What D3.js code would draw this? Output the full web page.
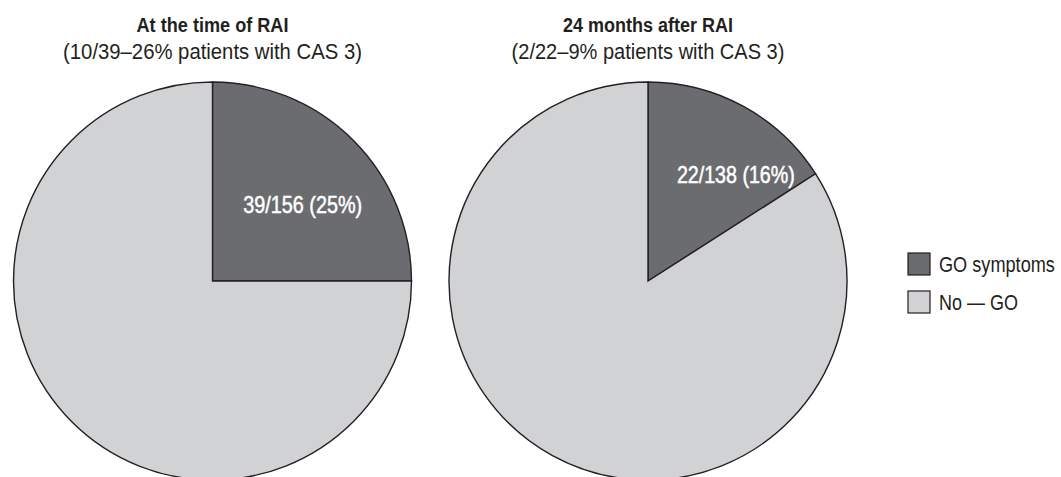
<!DOCTYPE html>
<html>
<head>
<meta charset="utf-8">
<script src="https://cdn.jsdelivr.net/npm/d3@7"></script>
<style>
  html, body { margin: 0; padding: 0; background: #fff; }
  svg { display: block; }
  text { font-family: "Liberation Sans", Arial, sans-serif; fill: #231f20; }
</style>
</head>
<body>
<svg id="chart" width="1061" height="477"></svg>
<script>
// ---- data ----
const categories = ["GO symptoms", "No \u2014 GO"];
const titles = ["At the time of RAI", "24 months after RAI"];
const subtitles = ["(10/39\u201326% patients with CAS 3)", "(2/22\u20139% patients with CAS 3)"];
const atRAI = [39, 117];
const after24 = [22, 116];
const sliceLabels = ["39/156 (25%)", "22/138 (16%)"];

// ---- layout / style ----
const colors = ["#6b6c70", "#d1d2d4"];
const radius = 199;
const centers = [{x: 212.5, y: 281}, {x: 648, y: 281}];
const labelAngle = [0.87, 0.69];
const labelRadius = [118, 138];
const titleLen = [152, 170];
const subtitleLen = [299, 273];
const sliceLabelLen = [119, 118];
const legendLen = [116, 79];

const svg = d3.select("#chart");
const color = d3.scaleOrdinal().domain(categories).range(colors);
const pie = d3.pie().sort(null).value(d => d.value);
const arc = d3.arc().innerRadius(0).outerRadius(radius);

// condense a text horizontally to a target width with a scale transform
function condense(sel, x, y, len, anchor) {
  const natural = sel.node().getComputedTextLength();
  const sx = Math.min(1, len / natural);
  sel.attr("text-anchor", anchor || "start")
     .attr("transform", `translate(${x},${y}) scale(${sx},1)`);
}

[atRAI, after24].forEach((vals, i) => {
  const data = categories.map((c, j) => ({cat: c, value: vals[j]}));
  const g = svg.append("g").attr("transform", `translate(${centers[i].x},${centers[i].y})`);
  g.selectAll("path")
    .data(pie(data))
    .join("path")
    .attr("d", arc)
    .attr("fill", d => color(d.data.cat))
    .attr("stroke", "#231f20")
    .attr("stroke-width", 1.4);

  const a = labelAngle[i], r = labelRadius[i];
  g.append("text")
    .style("fill", "#ffffff")
    .style("stroke", "#ffffff")
    .style("stroke-width", 0.5)
    .style("font-size", "23px")
    .text(sliceLabels[i])
    .call(condense, Math.sin(a) * r, -Math.cos(a) * r + 8.5, sliceLabelLen[i], "middle");

  svg.append("text")
    .style("font-size", "20px")
    .style("font-weight", "bold")
    .text(titles[i])
    .call(condense, centers[i].x, 32, titleLen[i], "middle");
  svg.append("text")
    .style("font-size", "22px")
    .text(subtitles[i])
    .call(condense, centers[i].x, 59, subtitleLen[i], "middle");
});

// legend
const legend = svg.append("g").attr("transform", "translate(908,253)");
categories.forEach((c, j) => {
  const row = legend.append("g").attr("transform", `translate(0,${j * 38})`);
  row.append("rect")
    .attr("width", 22).attr("height", 22)
    .attr("fill", color(c))
    .attr("stroke", "#231f20").attr("stroke-width", 1.2);
  row.append("text")
    .style("font-size", "22px")
    .text(c)
    .call(condense, 31, 18.5, legendLen[j], "start");
});
</script>
</body>
</html>
